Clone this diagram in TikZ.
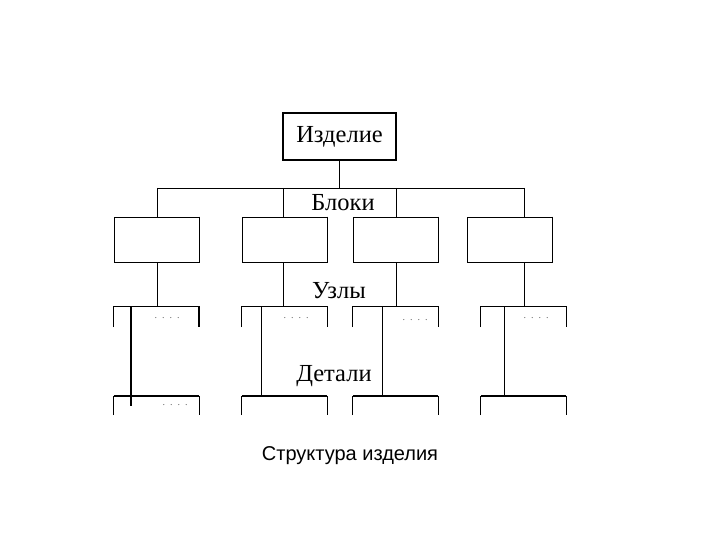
\documentclass[tikz,border=0pt]{standalone}
\usepackage{fontspec}
\setmainfont{Liberation Serif}
\newfontfamily\capfont{Liberation Sans}
\usetikzlibrary{positioning}

\begin{document}
\begin{tikzpicture}[x=1pt, y=-1pt,
    box/.style={rectangle, minimum width=85pt, inner sep=0pt},
    lvl/.style={font=\fontsize{24.5}{28}\selectfont, inner sep=1pt},
    link/.style={line width=0.8pt},
    heavy/.style={line width=1.8pt},
    dots/.style={font=\fontsize{10}{10}\selectfont, text=black!60}
]

\useasboundingbox (0,0) rectangle (720,540);

\node[box, draw, heavy, minimum width=113pt, minimum height=47pt, lvl] (izd) at (339.5,136.5) {Изделие};

\foreach \x/\n in {156.5/1, 284.5/2, 395.5/3, 509.5/4}
    \node[box, draw, link, minimum height=45pt] (b\n) at (\x,239.5) {};
\foreach \x/\n in {156.5/1, 284.5/2, 395.5/3, 523.5/4} {
    \node[box, minimum height=20pt] (u\n) at (\x,317) {};
    \node[box, minimum height=19pt] (d\n) at (\x,405.5) {};
}

\foreach \x/\n in {157/1, 283/2, 396/3, 524/4}
    \coordinate (k\n) at (\x,188);
\foreach \x/\n in {131/1, 261/2, 382/3, 504/4}
    \coordinate (s\n) at (\x,307);

\draw[heavy] (izd) -- (izd |- k1);
\draw[link] (k1) -- (k4);

\foreach \n in {1,...,4} {
    \draw[heavy] (b\n.north east) -- (b\n.south east);
    \draw[link] (k\n) -- (k\n |- b\n.north);
    \draw[link] (k\n |- b\n.south) -- (k\n |- u\n.north);
    \draw[link] (u\n.south west) |- (u\n.north east) -- (u\n.south east);
    \draw[link] (d\n.south west) -- (d\n.north west);
    \draw[link] (d\n.north east) -- (d\n.south east);
    \draw[heavy] (d\n.north west) -- (d\n.north east);
}
\draw[heavy] (u1.north east) -- (u1.south east);
\draw[heavy] (s1) -- (s1 |- d1.center);
\foreach \n in {2,3,4}
    \draw[link] (s\n) -- (s\n |- d\n.north);

\node[lvl] (blk) at (343,203) {Блоки};
\node[lvl] (uzl) at (339,291) {Узлы};
\node[lvl] (det) at (334,376) {Детали};

\node[dots] (p1) at (167,318) {.\enspace.\enspace.\enspace.};
\node[dots] (p2) at (296,318) {.\enspace.\enspace.\enspace.};
\node[dots] (p3) at (415,320) {.\enspace.\enspace.\enspace.};
\node[dots] (p4) at (536,318) {.\enspace.\enspace.\enspace.};
\node[dots] (p5) at (175,405) {.\enspace.\enspace.\enspace.};

\node[font=\capfont\fontsize{20}{24}\selectfont] (cap) at (350,456) {Структура изделия};

\end{tikzpicture}
\end{document}
